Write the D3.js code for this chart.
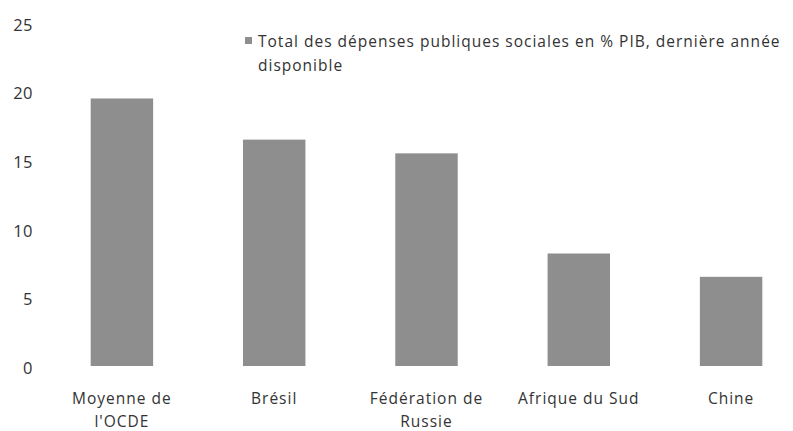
<!DOCTYPE html>
<html>
<head>
<meta charset="UTF-8">
<title>Dépenses publiques sociales</title>
<script src="https://d3js.org/d3.v7.min.js"></script>
<style>
  body { margin: 0; background: #fff; }
  text { font-family: "Open Sans", "Noto Sans", sans-serif; fill: #333; }
</style>
</head>
<body>
<div id="chart"></div>
<script>
// data
var countries = [["Moyenne de", "l'OCDE"], ["Brésil"], ["Fédération de", "Russie"], ["Afrique du Sud"], ["Chine"]];
var values = [19.5, 16.5, 15.5, 8.2, 6.5];
var yTicks = [0, 5, 10, 15, 20, 25];
var legendLines = ["Total des dépenses publiques sociales en % PIB, dernière année", "disponible"];

var width = 793, height = 431;
var barColor = "#8e8e8e";

var svg = d3.select("#chart").append("svg")
  .attr("width", width)
  .attr("height", height);

var x = d3.scaleBand()
  .domain(d3.range(countries.length))
  .range([45, 808])
  .paddingInner(0.59)
  .paddingOuter(0.3);

var y = d3.scaleLinear()
  .domain([0, 25])
  .range([366, 23]);

// y axis (labels only)
var yAxis = d3.axisLeft(y).tickValues(yTicks).tickSize(0).tickPadding(0);
var gy = svg.append("g")
  .attr("transform", "translate(33,2)")
  .call(yAxis);
gy.select(".domain").remove();
gy.selectAll("text")
  .style("font-size", "16.5px")
  .style("letter-spacing", "0.5px")
  .attr("fill", "#333");

// bars
svg.append("g")
  .selectAll("rect")
  .data(values)
  .enter()
  .append("rect")
  .attr("x", function(d, i) { return x(i); })
  .attr("y", function(d) { return y(d); })
  .attr("width", x.bandwidth())
  .attr("height", function(d) { return y(0) - y(d); })
  .attr("fill", barColor);

// x labels
var xl = svg.append("g")
  .selectAll("text")
  .data(countries)
  .enter()
  .append("text")
  .attr("x", function(d, i) { return x(i) + x.bandwidth() / 2; })
  .attr("y", 404)
  .attr("text-anchor", "middle")
  .style("font-size", "15.5px")
  .style("letter-spacing", "1px");
xl.selectAll("tspan")
  .data(function(d) { return d; })
  .enter()
  .append("tspan")
  .attr("x", function() { return d3.select(this.parentNode).attr("x"); })
  .attr("dy", function(d, i) { return i === 0 ? 0 : 23; })
  .text(function(d) { return d; });

// legend
svg.append("rect")
  .attr("x", 245)
  .attr("y", 37)
  .attr("width", 7)
  .attr("height", 7)
  .attr("fill", barColor);

svg.append("g")
  .selectAll("text")
  .data(legendLines)
  .enter()
  .append("text")
  .attr("x", 258)
  .attr("y", function(d, i) { return 47 + i * 24; })
  .style("font-size", "15.5px")
  .style("letter-spacing", "1px")
  .text(function(d) { return d; });
</script>
</body>
</html>
